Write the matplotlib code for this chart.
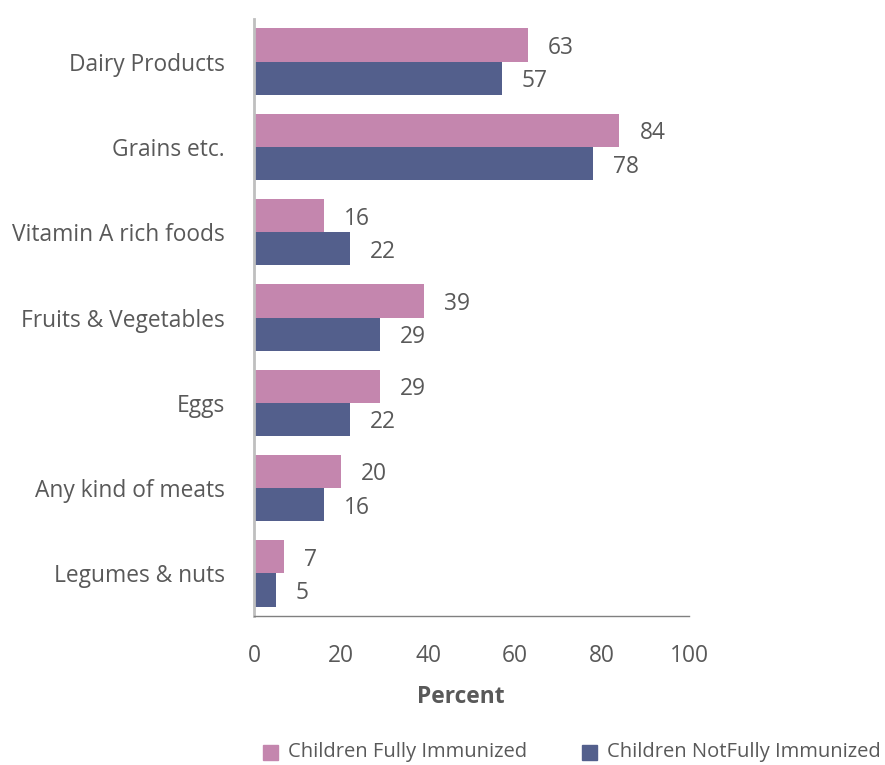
import numpy as np
import matplotlib.pyplot as plt
from matplotlib.patches import Rectangle

plt.rcParams['font.family'] = ['Open Sans', 'DejaVu Sans']

categories = ["Dairy Products", "Grains etc.", "Vitamin A rich foods",
              "Fruits & Vegetables", "Eggs", "Any kind of meats", "Legumes & nuts"]
fully = [63, 84, 16, 39, 29, 20, 7]
not_fully = [57, 78, 22, 29, 22, 16, 5]
series_names = ["Children Fully Immunized", "Children NotFully Immunized"]

pink = "#C486AE"
blue = "#535F8C"
text_gray = "#595959"
fs = 16.4

W, H = 885, 765
fig = plt.figure(figsize=(W / 100, H / 100), dpi=100)
ax = fig.add_axes([254 / W, 1 - 616 / H, 435 / W, 597 / H])

y = np.arange(len(categories))
h = 0.39
ax.barh(y - h / 2, fully, height=h, color=pink)
ax.barh(y + h / 2, not_fully, height=h, color=blue)

for yi, v in zip(y, fully):
    ax.text(v + 4.6, yi - h / 2, str(v), va="center_baseline", ha="left", fontsize=fs, color=text_gray)
for yi, v in zip(y, not_fully):
    ax.text(v + 4.6, yi + h / 2, str(v), va="center_baseline", ha="left", fontsize=fs, color=text_gray)

ax.set_ylim(len(categories) - 0.5, -0.5)
ax.set_xlim(0, 100)
ax.set_xticks([0, 20, 40, 60, 80, 100])
ax.set_yticks(y)
ax.set_yticklabels(categories)
ax.tick_params(axis="both", length=0, labelsize=fs, colors=text_gray)
ax.tick_params(axis="x", pad=20)
ax.tick_params(axis="y", pad=21)

for side in ["top", "right"]:
    ax.spines[side].set_visible(False)
ax.spines["left"].set_color("#BFBFBF")
ax.spines["left"].set_linewidth(2)
ax.spines["bottom"].set_color("#808080")
ax.spines["bottom"].set_linewidth(1)

fig.text(461 / W, 1 - 697 / H, "Percent", ha="center", va="center", fontsize=fs,
         fontweight="bold", color=text_gray)

# legend drawn as squares plus labels along the bottom
for x0, color, name in zip([263, 582], [pink, blue], series_names):
    fig.patches.append(Rectangle((x0 / W, 1 - 760 / H), 15 / W, 15 / H,
                                 transform=fig.transFigure, color=color))
    fig.text((x0 + 25) / W, 1 - 752 / H, name, ha="left", va="center",
             fontsize=14.5, color=text_gray)

fig.savefig("out.png", dpi=100)
